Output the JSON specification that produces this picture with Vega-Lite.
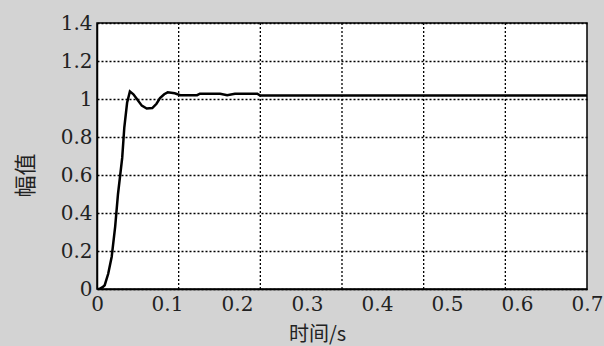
{
  "$schema": "https://vega.github.io/schema/vega-lite/v6.json",
  "width": 490,
  "height": 266,
  "autosize": {"type": "none"},
  "padding": {"left": 97, "top": 23, "right": 17, "bottom": 57},
  "background": "#d3d3d3",
  "config": {
    "view": {"fill": "white", "stroke": "black", "strokeWidth": 1.5},
    "font": "DejaVu Serif",
    "axis": {"labelFont": "DejaVu Serif"}
  },
  "encoding": {
    "x": {
      "field": "t",
      "type": "quantitative",
      "scale": {"domain": [0, 0.7], "nice": false, "zero": false},
      "axis": {
        "values": [0, 0.1, 0.2, 0.3, 0.4, 0.5, 0.6, 0.7],
        "format": "~g",
        "grid": false,
        "ticks": false,
        "domainColor": "black",
        "domainWidth": 1.5,
        "labelFont": "DejaVu Serif",
        "labelFontSize": 20,
        "labelColor": "#222",
        "labelPadding": 5,
        "labelFlush": false,
        "labelOverlap": false,
        "title": "时间/s",
        "titleFont": "Noto Sans CJK SC",
        "titleFontSize": 20,
        "titleFontWeight": "normal",
        "titleColor": "#222",
        "titleX": 220,
        "titleY": 55,
        "titleAlign": "center",
        "titleBaseline": "bottom"
      }
    }
  },
  "layer": [
    {
      "data": {"values": [{"t": 0.11667}, {"t": 0.23333}, {"t": 0.35}, {"t": 0.46667}, {"t": 0.58333}]},
      "mark": {"type": "rule", "color": "black", "strokeDash": [2, 2], "strokeWidth": 1.3}
    },
    {
      "data": {"values": [
        {"t": 0, "v": 0},
        {"t": 0.003, "v": 0},
        {"t": 0.008, "v": 0.01},
        {"t": 0.011, "v": 0.02},
        {"t": 0.016, "v": 0.08},
        {"t": 0.021, "v": 0.17},
        {"t": 0.026, "v": 0.33},
        {"t": 0.03, "v": 0.5},
        {"t": 0.036, "v": 0.69},
        {"t": 0.039, "v": 0.85},
        {"t": 0.043, "v": 0.98},
        {"t": 0.047, "v": 1.04},
        {"t": 0.052, "v": 1.025},
        {"t": 0.057, "v": 1.0},
        {"t": 0.064, "v": 0.965},
        {"t": 0.071, "v": 0.95},
        {"t": 0.079, "v": 0.952},
        {"t": 0.085, "v": 0.975},
        {"t": 0.09, "v": 1.005},
        {"t": 0.096, "v": 1.025},
        {"t": 0.101, "v": 1.035},
        {"t": 0.111, "v": 1.03},
        {"t": 0.119, "v": 1.02},
        {"t": 0.143, "v": 1.02},
        {"t": 0.147, "v": 1.028},
        {"t": 0.176, "v": 1.028},
        {"t": 0.186, "v": 1.02},
        {"t": 0.197, "v": 1.028},
        {"t": 0.229, "v": 1.028},
        {"t": 0.233, "v": 1.018},
        {"t": 0.7, "v": 1.018}
      ]},
      "mark": {"type": "line", "color": "black", "strokeWidth": 2.5, "clip": true},
      "encoding": {
        "y": {
          "field": "v",
          "type": "quantitative",
          "scale": {"domain": [0, 1.4], "nice": false},
          "axis": {
            "values": [0, 0.2, 0.4, 0.6, 0.8, 1, 1.2, 1.4],
            "format": "~g",
            "grid": true,
            "gridColor": "black",
            "gridDash": [2, 2],
            "gridWidth": 1.3,
            "gridOpacity": 1,
            "ticks": false,
            "domainColor": "black",
            "domainWidth": 1.5,
            "labelFont": "DejaVu Serif",
            "labelFontSize": 20,
            "labelColor": "#222",
            "labelPadding": 5,
            "labelOverlap": false,
            "title": "幅值",
            "titleFont": "Noto Sans CJK SC",
            "titleFontSize": 22,
            "titleFontWeight": "normal",
            "titleColor": "#222",
            "titleAngle": -90,
            "titleX": -72,
            "titleY": 152,
            "titleAlign": "center",
            "titleBaseline": "middle"
          }
        }
      }
    }
  ]
}
